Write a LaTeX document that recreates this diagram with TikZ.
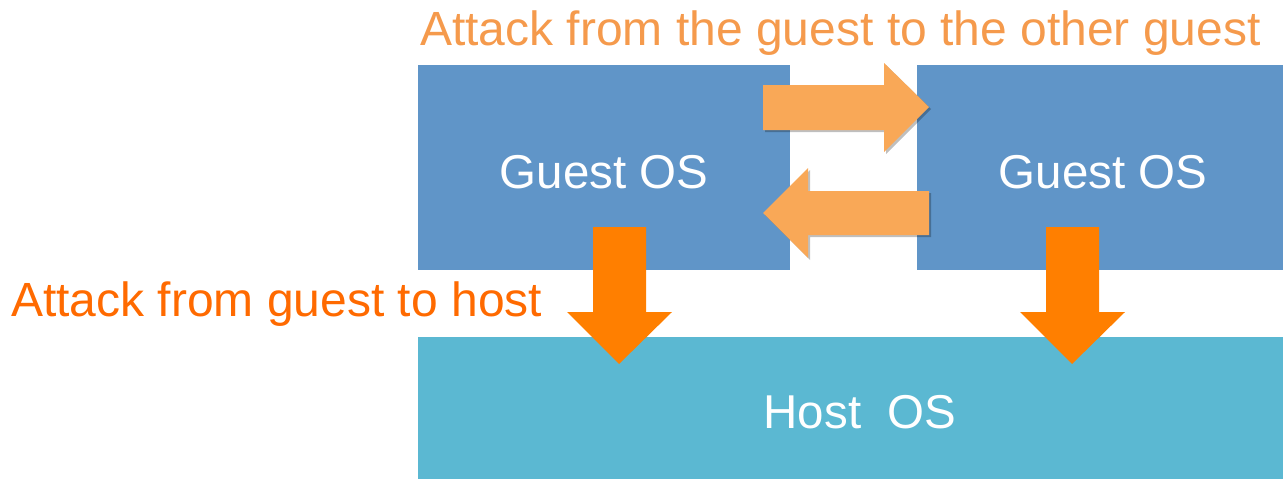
\documentclass[tikz,border=0pt]{standalone}
\usepackage{fontspec}
\setmainfont{Liberation Sans}
\usetikzlibrary{shadows}
\definecolor{guestblue}{HTML}{6095C8}
\definecolor{hostcyan}{HTML}{5BB8D2}
\definecolor{lightorange}{HTML}{F9A857}
\definecolor{deeporange}{HTML}{FF7F00}
\definecolor{titleorange}{HTML}{F59A4C}
\definecolor{labelorange}{HTML}{FF6A00}
\tikzset{
  osbox/.style={fill=#1, draw=none},
  ostext/.style={text=white, font=\fontsize{47.5}{50}\selectfont, anchor=base, inner sep=0pt},
  caption/.style={text=#1, font=\fontsize{48}{50}\selectfont, anchor=base west, inner sep=0pt},
  sidearrow/.style={fill=lightorange, draw=none, drop shadow={shadow xshift=2pt, shadow yshift=-2pt, opacity=0.25, fill=black}},
  downarrow/.style={fill=deeporange, draw=none},
}
\begin{document}
\begin{tikzpicture}[x=1pt, y=-1pt]
  \useasboundingbox (0,0) rectangle (1283,479);

  % boxes
  \fill[osbox=guestblue] (418,65) rectangle (790,270);
  \fill[osbox=guestblue] (917,65) rectangle (1283,270);
  \fill[osbox=hostcyan] (418,337) rectangle (1283,479);

  \node[ostext] (g1) at (604,188) {Guest OS};
  \node[ostext] (g2) at (1103,188) {Guest OS};
  \node[ostext] (h) at (860,428) {Host\ \ OS};

  % guest-to-guest arrows
  \path[sidearrow] (763,85) -- (884,85) -- (884,63) -- (929,107) -- (884,152) -- (884,130) -- (763,130) -- cycle;
  \path[sidearrow] (929,191) -- (808,191) -- (808,168) -- (763,213) -- (808,258) -- (808,235) -- (929,235) -- cycle;

  % guest-to-host arrows
  \fill[downarrow] (593,227) -- (646,227) -- (646,312) -- (672,312) -- (619,364) -- (567,312) -- (593,312) -- cycle;
  \fill[downarrow] (1046,227) -- (1099,227) -- (1099,312) -- (1125,312) -- (1072,364) -- (1020,312) -- (1046,312) -- cycle;

  % captions
  \node[caption=titleorange] (t1) at (420,45) {Attack from the guest to the other guest};
  \node[caption=labelorange] (t2) at (11,316) {Attack from guest to host};
\end{tikzpicture}
\end{document}
